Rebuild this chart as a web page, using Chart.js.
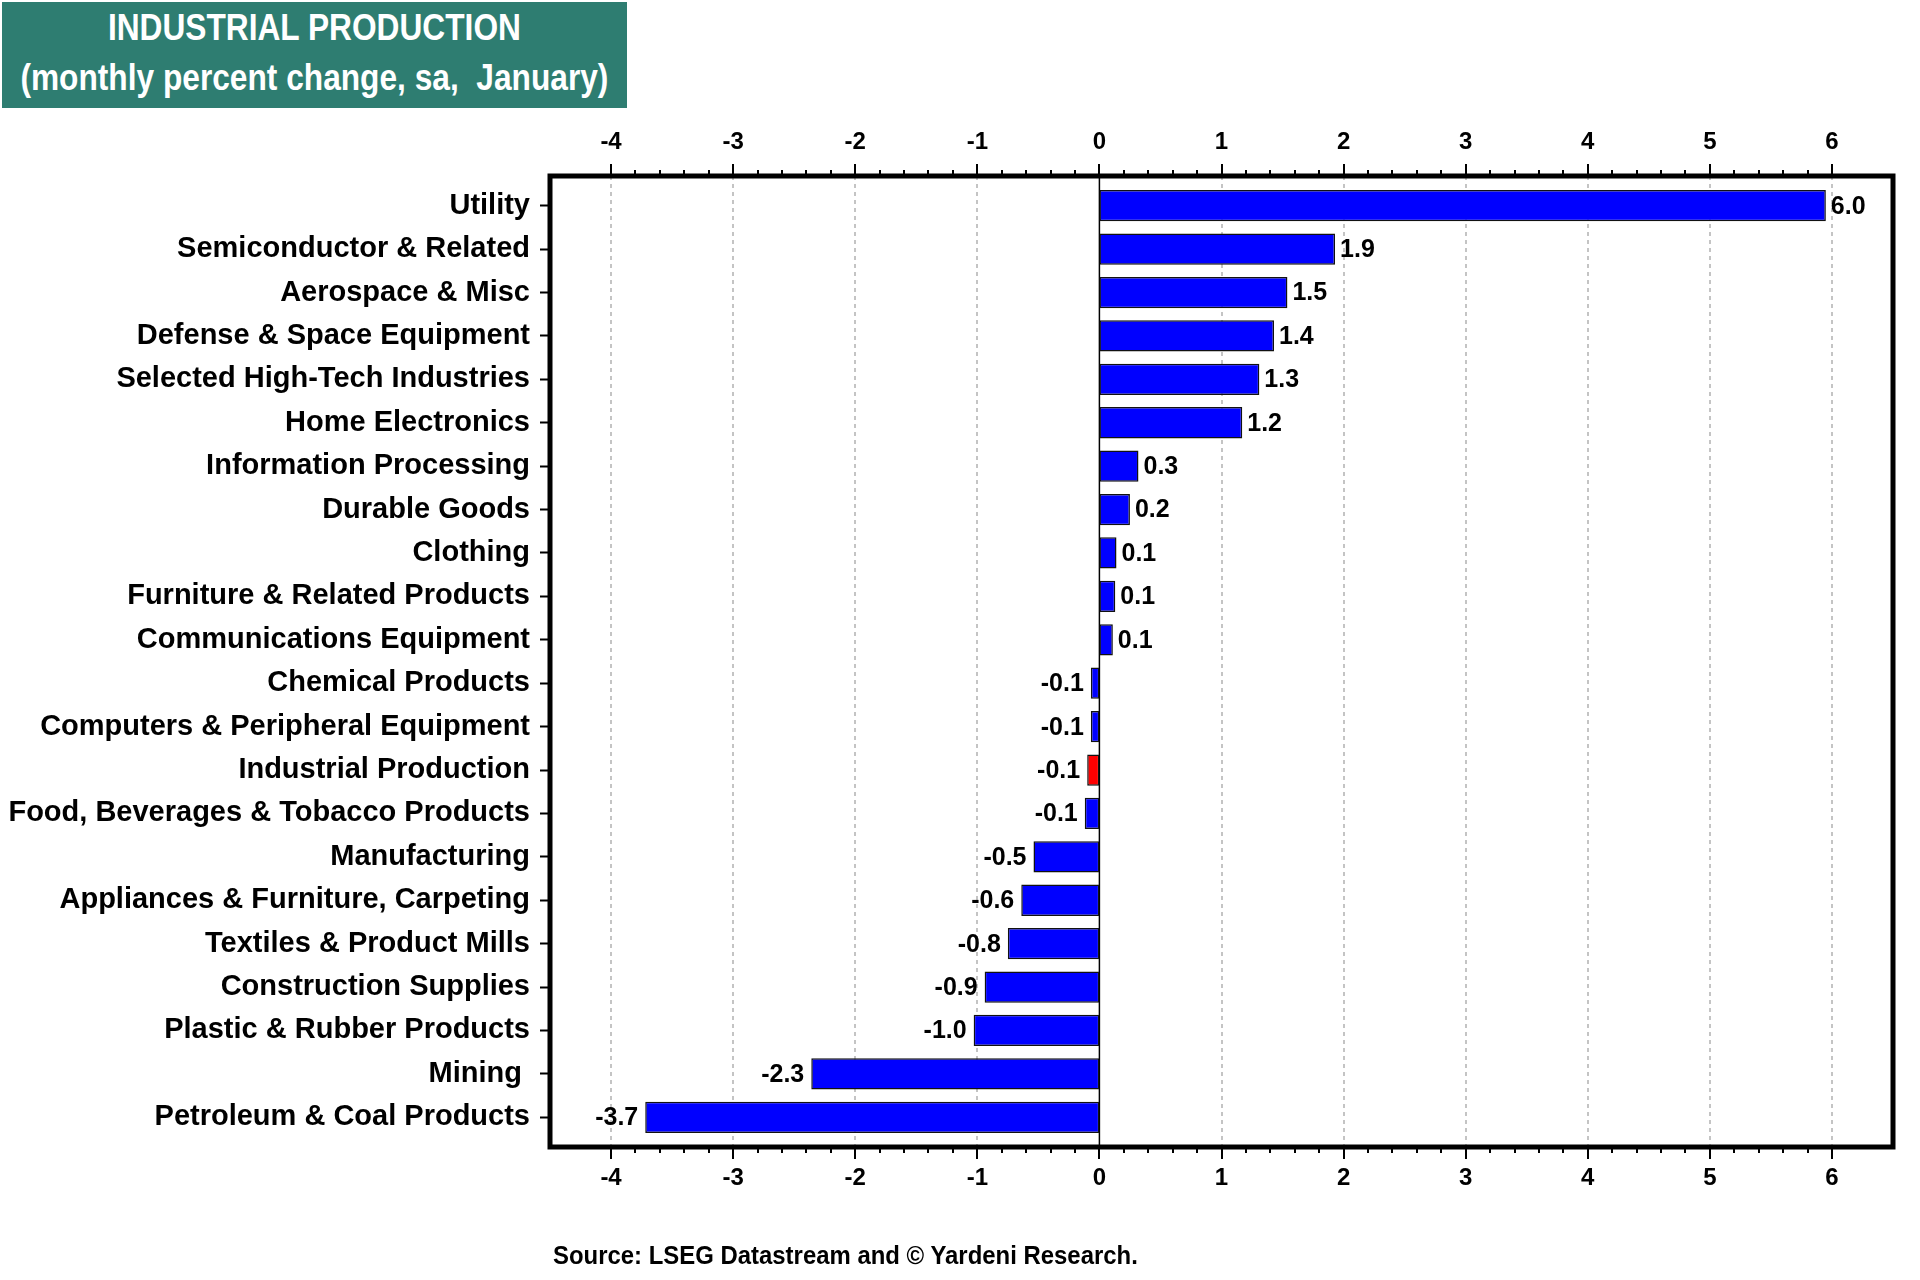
<!DOCTYPE html>
<html>
<head>
<meta charset="utf-8">
<script src="https://cdn.jsdelivr.net/npm/chart.js@4.4.1/dist/chart.umd.min.js"></script>
<style>
  body { margin: 0; background: #fff; }
  #wrap { position: relative; width: 1920px; height: 1280px; }
  #title {
    position: absolute; left: 2px; top: 2px; width: 625px; height: 106px;
    background: #2e7d71; overflow: hidden;
  }
  #title .inner {
    width: 710px; transform: scaleX(0.88); transform-origin: 0 0;
    color: #fff; text-align: center;
    font-family: "Liberation Sans", Arial, sans-serif;
    font-weight: bold; font-size: 36px; line-height: 50px; padding-top: 1px;
  }
  #source {
    position: absolute; left: 553px; top: 1240px; white-space: nowrap;
    transform: scaleX(0.92); transform-origin: 0 0;
    font-family: "Liberation Sans", Arial, sans-serif;
    font-weight: bold; font-size: 26px; color: #000;
  }
</style>
</head>
<body>
<div id="wrap">
  <canvas id="chart" width="1920" height="1280"></canvas>
  <div id="title"><div class="inner">INDUSTRIAL PRODUCTION<br>(monthly percent change, sa,&nbsp; January)</div></div>
  <div id="source">Source: LSEG Datastream and © Yardeni Research.</div>
</div>
<script>
// categories, top to bottom
const categories = [
  'Utility', 'Semiconductor & Related', 'Aerospace & Misc', 'Defense & Space Equipment',
  'Selected High-Tech Industries', 'Home Electronics', 'Information Processing', 'Durable Goods',
  'Clothing', 'Furniture & Related Products', 'Communications Equipment', 'Chemical Products',
  'Computers & Peripheral Equipment', 'Industrial Production', 'Food, Beverages & Tobacco Products',
  'Manufacturing', 'Appliances & Furniture, Carpeting', 'Textiles & Product Mills',
  'Construction Supplies', 'Plastic & Rubber Products', 'Mining ', 'Petroleum & Coal Products'
];
// monthly % change (bar lengths)
const values = [
  5.95, 1.93, 1.54, 1.43, 1.31, 1.17, 0.32, 0.25, 0.14, 0.13, 0.11, -0.07,
  -0.07, -0.10, -0.12, -0.54, -0.64, -0.75, -0.94, -1.03, -2.36, -3.72
];
// printed value labels
const valueLabels = [
  '6.0', '1.9', '1.5', '1.4', '1.3', '1.2', '0.3', '0.2', '0.1', '0.1', '0.1', '-0.1',
  '-0.1', '-0.1', '-0.1', '-0.5', '-0.6', '-0.8', '-0.9', '-1.0', '-2.3', '-3.7'
];
const tickValues = [-4, -3, -2, -1, 0, 1, 2, 3, 4, 5, 6];
const highlight = 'Industrial Production';

const FONT = '"Liberation Sans", Arial, sans-serif';
const BOX_PAD = 8; // frame sits a little outside the bar area top and bottom

const framePlugin = {
  id: 'frame',
  beforeDatasetsDraw(chart) {
    const ctx = chart.ctx, area = chart.chartArea, xs = chart.scales.x;
    const top = area.top - BOX_PAD, bottom = area.bottom + BOX_PAD;
    ctx.save();
    // dashed grid lines
    ctx.strokeStyle = '#c4c4c4';
    ctx.lineWidth = 2;
    ctx.setLineDash([4, 4]);
    tickValues.forEach(v => {
      if (v === 0) return;
      const x = Math.round(xs.getPixelForValue(v));
      ctx.beginPath();
      ctx.moveTo(x, top);
      ctx.lineTo(x, bottom);
      ctx.stroke();
    });
    // zero line
    ctx.setLineDash([]);
    ctx.strokeStyle = '#000';
    ctx.lineWidth = 1.5;
    const x0 = xs.getPixelForValue(0);
    ctx.beginPath();
    ctx.moveTo(x0, top);
    ctx.lineTo(x0, bottom);
    ctx.stroke();
    ctx.restore();
  },
  afterDatasetsDraw(chart) {
    const ctx = chart.ctx;
    const meta = chart.getDatasetMeta(0);
    ctx.save();
    ctx.font = 'bold 25px ' + FONT;
    ctx.fillStyle = '#000';
    ctx.textBaseline = 'middle';
    meta.data.forEach((bar, i) => {
      if (values[i] >= 0) {
        ctx.textAlign = 'left';
        ctx.fillText(valueLabels[i], bar.x + 5, bar.y + 1);
      } else {
        ctx.textAlign = 'right';
        ctx.fillText(valueLabels[i], bar.x - 7, bar.y + 1);
      }
    });
    ctx.restore();
  },
  afterDraw(chart) {
    const ctx = chart.ctx, area = chart.chartArea, xs = chart.scales.x;
    const top = area.top - BOX_PAD, bottom = area.bottom + BOX_PAD;
    ctx.save();
    ctx.strokeStyle = '#000';
    // tick marks on top and bottom axes
    ctx.lineWidth = 2;
    for (let k = 0; k < tickValues.length; k++) {
      const v = tickValues[k];
      const x = Math.round(xs.getPixelForValue(v));
      ctx.beginPath();
      ctx.moveTo(x, top - 12); ctx.lineTo(x, top);
      ctx.moveTo(x, bottom); ctx.lineTo(x, bottom + 12);
      ctx.stroke();
      if (k < tickValues.length - 1) {
        for (let m = 1; m < 5; m++) {
          const xm = Math.round(xs.getPixelForValue(v + m * 0.2));
          ctx.beginPath();
          ctx.moveTo(xm, top - 6); ctx.lineTo(xm, top);
          ctx.moveTo(xm, bottom); ctx.lineTo(xm, bottom + 6);
          ctx.stroke();
        }
      }
    }
    // heavy frame
    ctx.lineWidth = 5;
    ctx.strokeRect(area.left, top, area.right - area.left, bottom - top);
    ctx.restore();
  }
};

const xAxisCommon = {
  type: 'linear',
  min: -4.5,
  max: 6.5,
  grid: { display: false, drawTicks: false },
  border: { display: false },
  ticks: { font: { family: FONT, size: 24, weight: 'bold' }, color: '#000' },
  afterBuildTicks: s => { s.ticks = tickValues.map(v => ({ value: v })); }
};

new Chart(document.getElementById('chart').getContext('2d'), {
  type: 'bar',
  data: {
    labels: categories,
    datasets: [{
      data: values,
      xAxisID: 'x',
      backgroundColor: categories.map(c => c === highlight ? '#ff0000' : '#0000ff'),
      borderColor: '#111',
      borderWidth: 1.5,
      borderSkipped: false,
      categoryPercentage: 1,
      barPercentage: 0.72
    }]
  },
  options: {
    indexAxis: 'y',
    responsive: false,
    animation: false,
    layout: { padding: { left: 0, right: 27, top: 0, bottom: 0 } },
    plugins: { legend: { display: false }, tooltip: { enabled: false } },
    scales: {
      y: {
        type: 'category',
        offset: true,
        grid: { offset: false, drawOnChartArea: false, tickLength: 10, tickWidth: 2, tickColor: '#000', color: '#000' },
        border: { display: false },
        ticks: { font: { family: FONT, size: 29, weight: 'bold' }, color: '#000', padding: 10, autoSkip: false },
        afterFit: s => { s.width = 550; }
      },
      x: Object.assign({}, xAxisCommon, {
        position: 'bottom',
        ticks: Object.assign({}, xAxisCommon.ticks, { padding: 25 }),
        afterFit: s => { s.height = 141; }
      }),
      x2: Object.assign({}, xAxisCommon, {
        position: 'top',
        ticks: Object.assign({}, xAxisCommon.ticks, { padding: 27 }),
        afterFit: s => { s.height = 184; }
      })
    }
  },
  plugins: [framePlugin]
});
</script>
</body>
</html>
